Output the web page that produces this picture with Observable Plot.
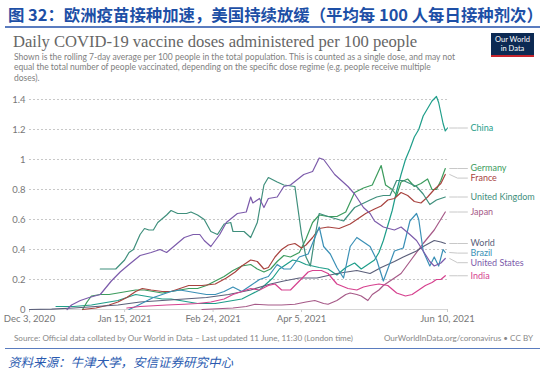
<!DOCTYPE html>
<html><head><meta charset="utf-8">
<script src="https://cdn.jsdelivr.net/npm/d3@7"></script>
<script src="https://cdn.jsdelivr.net/npm/@observablehq/plot@0.6"></script>
<style>
html,body{margin:0;padding:0;background:#fff;width:550px;height:370px;overflow:hidden;}
#wrap{position:relative;width:550px;height:370px;font-family:Lato,"Noto Sans",sans-serif;}
#cnTitle{position:absolute;left:8px;top:4px;font-family:"Noto Sans CJK SC";font-weight:bold;font-size:16.4px;line-height:20px;color:#1d4fa6;white-space:nowrap;}
#rule1{position:absolute;left:5px;top:26px;width:535px;height:1.5px;background:#5a7cbf;}
#title{position:absolute;left:13px;top:32px;font-family:"Liberation Serif",serif;font-size:16.6px;line-height:20px;color:#666;white-space:nowrap;}
#sub{position:absolute;left:14px;top:51.5px;font-size:8.5px;line-height:10.5px;color:#808080;white-space:nowrap;}
#logo{position:absolute;left:491px;top:33px;width:43px;height:24px;background:#0c2a53;border-bottom:2px solid #c8242c;color:#fff;font-size:7.5px;line-height:8.5px;text-align:center;padding-top:3px;box-sizing:border-box;}
#chart{position:absolute;left:0;top:85px;}
#source{position:absolute;left:14px;top:332.5px;font-size:8.1px;line-height:10px;color:#888;white-space:nowrap;}
#url{position:absolute;right:17px;top:332.5px;font-size:8.1px;line-height:10px;color:#888;white-space:nowrap;}
#rule2{position:absolute;left:5px;top:347.5px;width:535px;height:1.5px;background:#5a7cbf;}
#cnSource{position:absolute;left:8px;top:355px;font-family:"Noto Sans CJK SC";font-style:italic;font-size:12.5px;line-height:14px;color:#2a5ab0;white-space:nowrap;}
</style></head>
<body>
<div id="wrap">
  <div id="cnTitle">图 32：欧洲疫苗接种加速，美国持续放缓（平均每 100 人每日接种剂次）</div>
  <div id="rule1"></div>
  <div id="title">Daily COVID-19 vaccine doses administered per 100 people</div>
  <div id="sub">Shown is the rolling 7-day average per 100 people in the total population. This is counted as a single dose, and may not<br>equal the total number of people vaccinated, depending on the specific dose regime (e.g. people receive multiple<br>doses).</div>
  <div id="logo">Our World<br>in Data</div>
  <div id="chart"></div>
  <div id="source">Source: Official data collated by Our World in Data – Last updated 11 June, 11:30 (London time)</div>
  <div id="url">OurWorldInData.org/coronavirus • CC BY</div>
  <div id="rule2"></div>
  <div id="cnSource">资料来源：牛津大学，安信证券研究中心</div>
</div>
<script>
// Values: [days since 2020-12-03, doses per 100 people]
const china = [[12,0.02],[16,0.02],[20,0.02],[24,0.025],[28,0.03],[32,0.04],[36,0.05],[40,0.06],[44,0.08],[48,0.1],[52,0.09],[56,0.08],[60,0.07],[64,0.07],[68,0.06],[72,0.05],[76,0.04],[80,0.04],[84,0.04],[88,0.05],[92,0.06],[96,0.07],[100,0.1],[104,0.13],[107,0.17],[110,0.21],[113,0.27],[116,0.3],[119,0.33],[122,0.32],[125,0.3],[128,0.29],[131,0.28],[135,0.27],[139,0.23],[143,0.28],[147,0.31],[150,0.27],[153,0.3],[156,0.33],[158,0.38],[160,0.46],[162,0.56],[164,0.66],[166,0.79],[168,0.9],[170,1.0],[172,1.07],[174,1.15],[176,1.2],[178,1.29],[180,1.34],[182,1.39],[184,1.42],[185,1.38],[186,1.31],[187,1.24],[188,1.19],[189,1.21]];
const germany = [[24,0],[26,0.05],[28,0.09],[32,0.1],[36,0.1],[40,0.11],[44,0.12],[48,0.13],[52,0.13],[56,0.12],[60,0.11],[64,0.12],[68,0.13],[72,0.14],[76,0.14],[80,0.16],[84,0.19],[88,0.22],[92,0.26],[96,0.29],[100,0.3],[103,0.27],[106,0.25],[109,0.27],[112,0.32],[115,0.36],[118,0.35],[122,0.38],[125,0.47],[128,0.58],[131,0.63],[135,0.62],[139,0.62],[143,0.65],[147,0.78],[151,0.81],[155,0.83],[159,0.96],[161,0.83],[164,0.8],[166,0.76],[168,0.85],[171,0.87],[174,0.82],[177,0.84],[180,0.87],[182,0.8],[184,0.8],[186,0.86],[188,0.94]];
const france = [[24,0],[30,0.01],[36,0.03],[40,0.05],[44,0.08],[48,0.12],[51,0.14],[55,0.13],[60,0.12],[64,0.12],[68,0.14],[72,0.16],[78,0.16],[84,0.17],[89,0.21],[93,0.25],[96,0.29],[100,0.33],[103,0.32],[106,0.27],[108,0.28],[111,0.35],[114,0.4],[117,0.43],[120,0.44],[123,0.41],[125,0.43],[128,0.48],[131,0.54],[135,0.55],[140,0.54],[145,0.57],[148,0.6],[152,0.64],[156,0.67],[159,0.69],[162,0.73],[165,0.74],[168,0.78],[171,0.76],[174,0.72],[177,0.71],[180,0.75],[183,0.8],[186,0.84],[188,0.9]];
const unitedKingdom = [[32,0.27],[39,0.27],[43,0.33],[45,0.38],[47,0.4],[50,0.5],[52,0.54],[54,0.53],[56,0.53],[58,0.58],[62,0.63],[64,0.66],[67,0.64],[71,0.64],[73,0.65],[76,0.63],[79,0.6],[82,0.52],[85,0.5],[88,0.57],[91,0.58],[92,0.52],[97,0.52],[100,0.48],[103,0.58],[106,0.83],[108,0.88],[112,0.85],[115,0.83],[120,0.82],[123,0.5],[125,0.35],[127,0.29],[129,0.48],[131,0.64],[135,0.62],[142,0.59],[147,0.68],[154,0.73],[157,0.75],[160,0.76],[163,0.76],[166,0.86],[169,0.86],[172,0.84],[175,0.82],[178,0.77],[181,0.7],[184,0.73],[188,0.75]];
const japan = [[78,0],[85,0.005],[92,0.01],[98,0.02],[102,0.035],[108,0.03],[114,0.03],[120,0.035],[125,0.05],[129,0.06],[133,0.04],[135,0.035],[139,0.06],[143,0.1],[145,0.11],[148,0.1],[150,0.09],[153,0.06],[155,0.1],[158,0.13],[160,0.16],[164,0.2],[168,0.24],[173,0.34],[178,0.44],[183,0.53],[188,0.65]];
const world = [[0,0],[10,0.002],[20,0.01],[30,0.02],[40,0.03],[50,0.05],[60,0.06],[70,0.07],[80,0.08],[90,0.1],[100,0.13],[109,0.17],[115,0.19],[122,0.21],[130,0.21],[139,0.24],[148,0.26],[154,0.24],[159,0.28],[165,0.32],[169,0.35],[175,0.39],[178,0.42],[183,0.46],[186,0.45],[188,0.44]];
const brazil = [[45,0],[48,0.02],[52,0.05],[56,0.08],[60,0.1],[64,0.12],[68,0.13],[72,0.12],[76,0.11],[80,0.1],[84,0.1],[88,0.12],[92,0.15],[96,0.12],[100,0.16],[104,0.2],[108,0.22],[112,0.3],[115,0.27],[118,0.27],[122,0.35],[126,0.37],[131,0.55],[133,0.42],[136,0.37],[139,0.28],[142,0.21],[145,0.42],[148,0.48],[151,0.45],[154,0.42],[157,0.33],[160,0.19],[162,0.27],[165,0.39],[169,0.41],[172,0.59],[175,0.64],[176,0.6],[178,0.39],[181,0.29],[183,0.35],[185,0.29],[187,0.4],[188,0.38]];
const unitedStates = [[17,0],[19,0.03],[23,0.06],[27,0.08],[32,0.1],[37,0.19],[41,0.25],[45,0.3],[50,0.36],[55,0.38],[59,0.4],[62,0.38],[66,0.43],[70,0.48],[74,0.5],[77,0.5],[79,0.46],[82,0.42],[86,0.5],[89,0.58],[94,0.64],[98,0.65],[100,0.75],[101,0.71],[104,0.74],[106,0.68],[108,0.74],[112,0.75],[115,0.82],[118,0.83],[124,0.9],[128,0.92],[131,1.01],[133,1.0],[135,0.96],[138,0.9],[141,0.86],[144,0.82],[147,0.77],[151,0.68],[154,0.64],[156,0.59],[160,0.55],[165,0.53],[168,0.55],[172,0.5],[175,0.46],[178,0.39],[181,0.32],[183,0.29],[186,0.31],[188,0.34]];
const india = [[44,0.01],[50,0.02],[56,0.025],[62,0.03],[70,0.035],[76,0.04],[82,0.05],[88,0.07],[92,0.1],[96,0.12],[100,0.14],[104,0.13],[108,0.16],[111,0.17],[114,0.13],[118,0.13],[122,0.19],[126,0.25],[128,0.26],[132,0.26],[135,0.24],[139,0.17],[144,0.14],[148,0.13],[151,0.15],[154,0.16],[158,0.17],[162,0.16],[166,0.11],[170,0.09],[173,0.1],[176,0.13],[179,0.16],[182,0.18],[184,0.2],[186,0.2],[188,0.225]];

const countries = ["China","Germany","France","United Kingdom","Japan","World","Brazil","United States","India"];
const series = [china, germany, france, unitedKingdom, japan, world, brazil, unitedStates, india];
const colors = ["#1f9e8a","#3d9c5e","#a8433f","#3f8f7c","#a65a88","#5b5f7a","#3b90b6","#7c5bab","#d6428f"];
const tickLabels = ["2020-12-03","2021-01-15","2021-02-24","2021-04-05","2021-06-10"];
const yTicks = [0,0.2,0.4,0.6,0.8,1,1.2,1.4];

const start = new Date(Date.UTC(2020,11,3));
const end = new Date(Date.UTC(2021,5,10));
const toDate = d => d3.utcDay.offset(start, d);
const rows = countries.flatMap((c,i) => series[i].map(([d,v]) => ({country:c, date:toDate(d), value:v})));

// end labels, pushed apart downward
const ends = countries.map((c,i) => { const last = series[i][series[i].length-1]; return {country:c, endVal:last[1]}; })
  .sort((a,b) => b.endVal - a.endVal);
const gap = 0.064;
ends.forEach((e,i) => { e.labelY = i === 0 ? e.endVal : Math.min(e.endVal, ends[i-1].labelY - gap); });
const connectors = ends.flatMap(e => [
  {country:e.country, date:d3.utcHour.offset(end, 24), value:e.endVal},
  {country:e.country, date:d3.utcHour.offset(end, 108), value:e.labelY},
  {country:e.country, date:d3.utcHour.offset(end, 216), value:e.labelY}
]);

const chart = Plot.plot({
  width: 550, height: 240,
  marginLeft: 29, marginRight: 103, marginTop: 6.5, marginBottom: 16,
  style: {fontFamily: "Lato, sans-serif", fontSize: "9.5px", color: "#777", background: "transparent", overflow: "visible"},
  x: {type: "utc", domain: [start, end]},
  y: {domain: [0, 1.45]},
  color: {domain: countries, range: colors},
  marks: [
    Plot.gridY(yTicks.filter(t => t > 0), {stroke: "#c8c8c8", strokeOpacity: 1, strokeDasharray: "2,2"}),
    Plot.axisY({ticks: yTicks, tickFormat: d => String(d), tickSize: 0, tickPadding: 4, label: null, fill: "#777"}),
    Plot.axisX({ticks: tickLabels.map(s => new Date(s)), tickFormat: d3.utcFormat("%b %-d, %Y"), tickSize: 3, tickPadding: 3, label: null, stroke: "#ccc", fill: "#777"}),
    Plot.ruleY([0], {stroke: "#d6d6d6"}),
    Plot.line(rows, {x: "date", y: "value", z: "country", stroke: "country", strokeWidth: 1.2}),
    Plot.line(connectors, {x: "date", y: "value", z: "country", stroke: "#c8c8c8", strokeWidth: 1}),
    Plot.text(ends, {x: () => end, y: "labelY", text: "country", fill: "country", dx: 23, textAnchor: "start", fontSize: 9})
  ]
});
document.getElementById("chart").appendChild(chart);
</script>
</body></html>
